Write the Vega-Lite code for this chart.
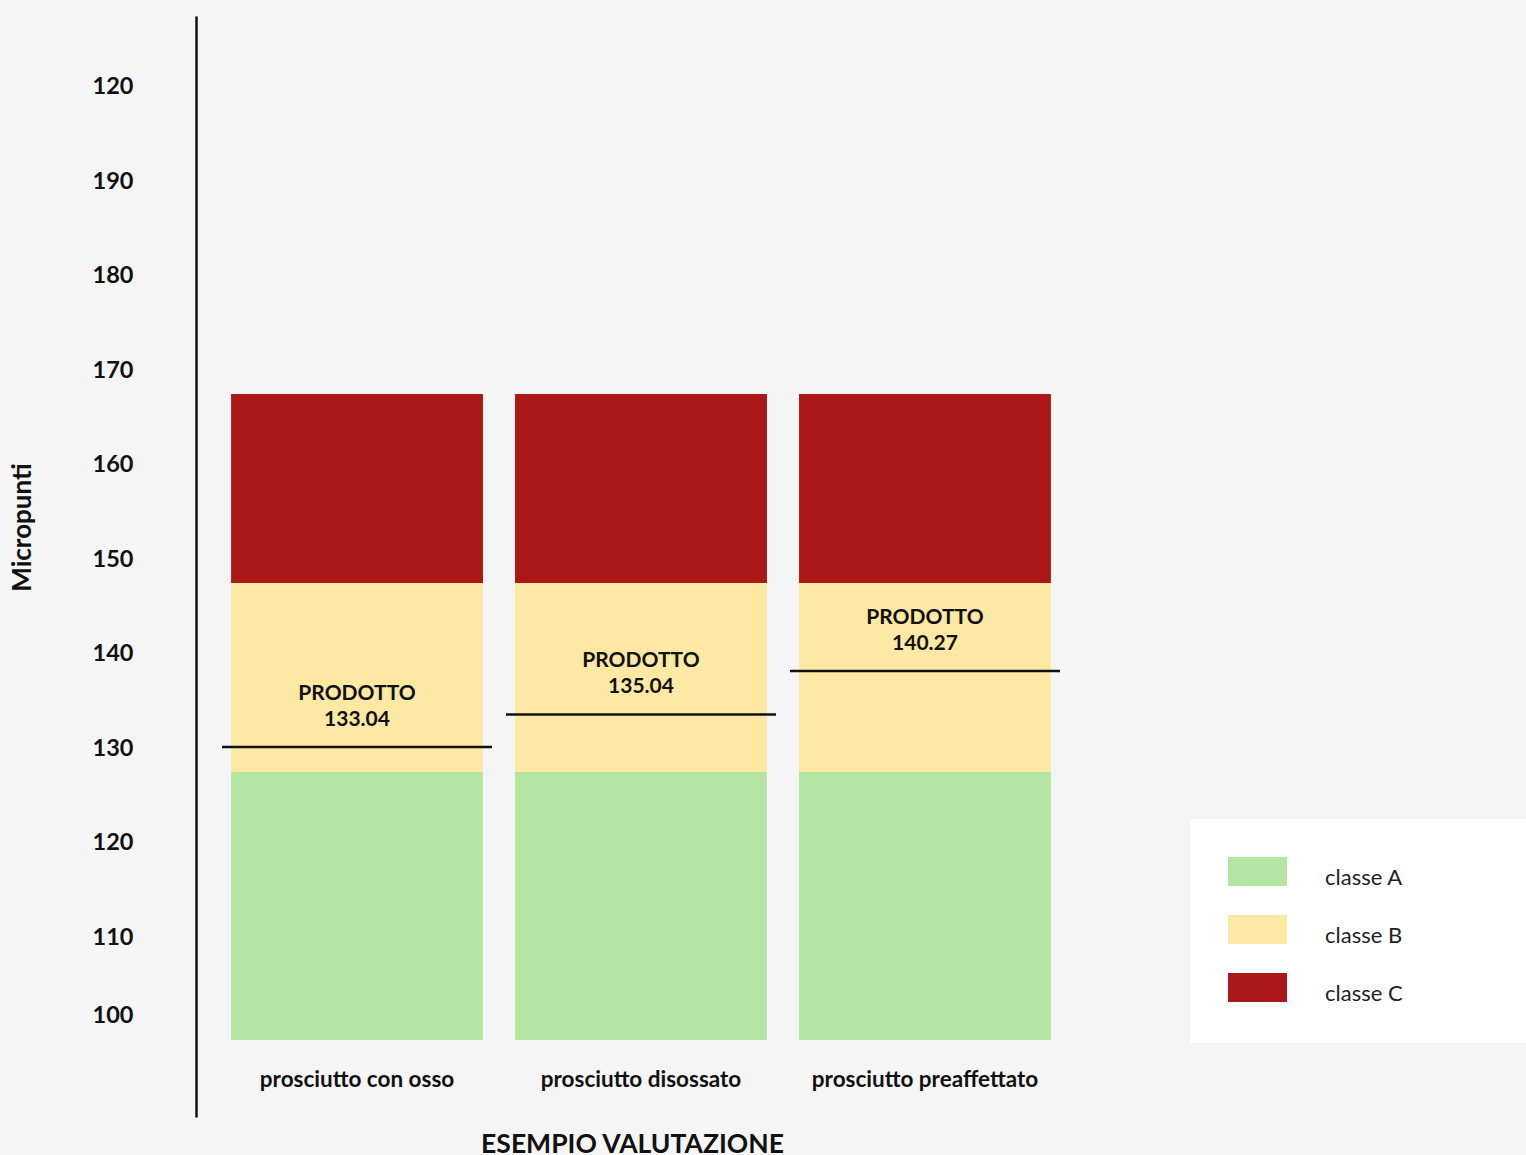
{
  "$schema": "https://vega.github.io/schema/vega-lite/v6.json",
  "width": 890,
  "height": 1101,
  "autosize": "none",
  "padding": {"left": 196, "top": 16, "right": 440, "bottom": 38},
  "background": "#f5f5f5",
  "config": {"view": {"stroke": null}, "font": "Lato"},
  "datasets": {
    "classi": [
      {"prodotto": "prosciutto con osso", "classe": "classe A", "da": 101.66, "a": 130},
      {"prodotto": "prosciutto con osso", "classe": "classe B", "da": 130, "a": 150},
      {"prodotto": "prosciutto con osso", "classe": "classe C", "da": 150, "a": 170},
      {"prodotto": "prosciutto disossato", "classe": "classe A", "da": 101.66, "a": 130},
      {"prodotto": "prosciutto disossato", "classe": "classe B", "da": 130, "a": 150},
      {"prodotto": "prosciutto disossato", "classe": "classe C", "da": 150, "a": 170},
      {"prodotto": "prosciutto preaffettato", "classe": "classe A", "da": 101.66, "a": 130},
      {"prodotto": "prosciutto preaffettato", "classe": "classe B", "da": 130, "a": 150},
      {"prodotto": "prosciutto preaffettato", "classe": "classe C", "da": 150, "a": 170}
    ],
    "prodotti": [
      {"prodotto": "prosciutto con osso", "micropunti": 132.65, "etichetta": "PRODOTTO\n133.04"},
      {"prodotto": "prosciutto disossato", "micropunti": 136.1, "etichetta": "PRODOTTO\n135.04"},
      {"prodotto": "prosciutto preaffettato", "micropunti": 140.7, "etichetta": "PRODOTTO\n140.27"}
    ]
  },
  "layer": [
    {
      "data": {"name": "classi"},
      "mark": {"type": "bar", "opacity": 1},
      "encoding": {
        "x": {
          "field": "prodotto", "type": "nominal", "sort": null,
          "scale": {"paddingInner": 0.113, "paddingOuter": 0.1235},
          "title": "ESEMPIO VALUTAZIONE",
          "axis": {
            "domain": false, "ticks": false, "labelAngle": 0, "labelPadding": -49, "labelLimit": 400,
            "labelFontSize": 22.5, "labelFontWeight": "bold", "labelColor": "#111",
            "titleFontSize": 26.5, "titleFontWeight": "bold", "titleColor": "#111",
            "titleX": 436, "titleY": 27, "titleBaseline": "middle"
          }
        },
        "y": {
          "field": "da", "type": "quantitative",
          "scale": {"domain": [93.5, 210], "nice": false, "zero": false},
          "title": "Micropunti",
          "axis": {
            "values": [101.66, 110, 120, 130, 140, 150, 160, 170, 180, 190, 200],
            "labelExpr": "datum.value === 200 ? '120' : (datum.value < 105 ? '100' : datum.label)",
            "labelOffset": -24, "ticks": false, "grid": false,
            "domainColor": "#111", "domainWidth": 2.5,
            "labelPadding": 63, "labelFontSize": 23.5, "labelFontWeight": "bold", "labelColor": "#111",
            "titleFontSize": 26, "titleFontWeight": "bold", "titleColor": "#111",
            "titleX": -174, "titleY": 511, "titleAngle": 270, "titleBaseline": "middle", "titleAlign": "center"
          }
        },
        "y2": {"field": "a"},
        "color": {
          "field": "classe", "type": "nominal",
          "scale": {"domain": ["classe A", "classe B", "classe C"], "range": ["#b5e5a2", "#fee9a4", "#ab1817"]},
          "legend": {
            "title": null, "orient": "none", "legendX": 994, "legendY": 803,
            "fillColor": "#ffffff", "padding": 38,
            "symbolType": "M-1,-1H3.069V1H-1Z M17.5,0Z", "symbolSize": 841, "symbolStrokeWidth": 0, "symbolOpacity": 1,
            "labelOffset": 68, "rowPadding": 26,
            "labelFontSize": 22, "labelColor": "#222", "labelFont": "Lato",
            "encode": {
              "labels": {"update": {"dy": {"value": 6}}}
            }
          }
        }
      }
    },
    {
      "data": {"name": "prodotti"},
      "mark": {"type": "tick", "color": "#111", "thickness": 2.5, "size": 270, "opacity": 1},
      "encoding": {
        "x": {"field": "prodotto", "type": "nominal", "sort": null},
        "y": {"field": "micropunti", "type": "quantitative"}
      }
    },
    {
      "data": {"name": "prodotti"},
      "mark": {"type": "text", "lineBreak": "\n", "lineHeight": 26, "fontSize": 21, "fontWeight": "bold", "color": "#111", "baseline": "middle", "align": "center", "dy": -53},
      "encoding": {
        "x": {"field": "prodotto", "type": "nominal", "sort": null},
        "y": {"field": "micropunti", "type": "quantitative"},
        "text": {"field": "etichetta"}
      }
    }
  ]
}
